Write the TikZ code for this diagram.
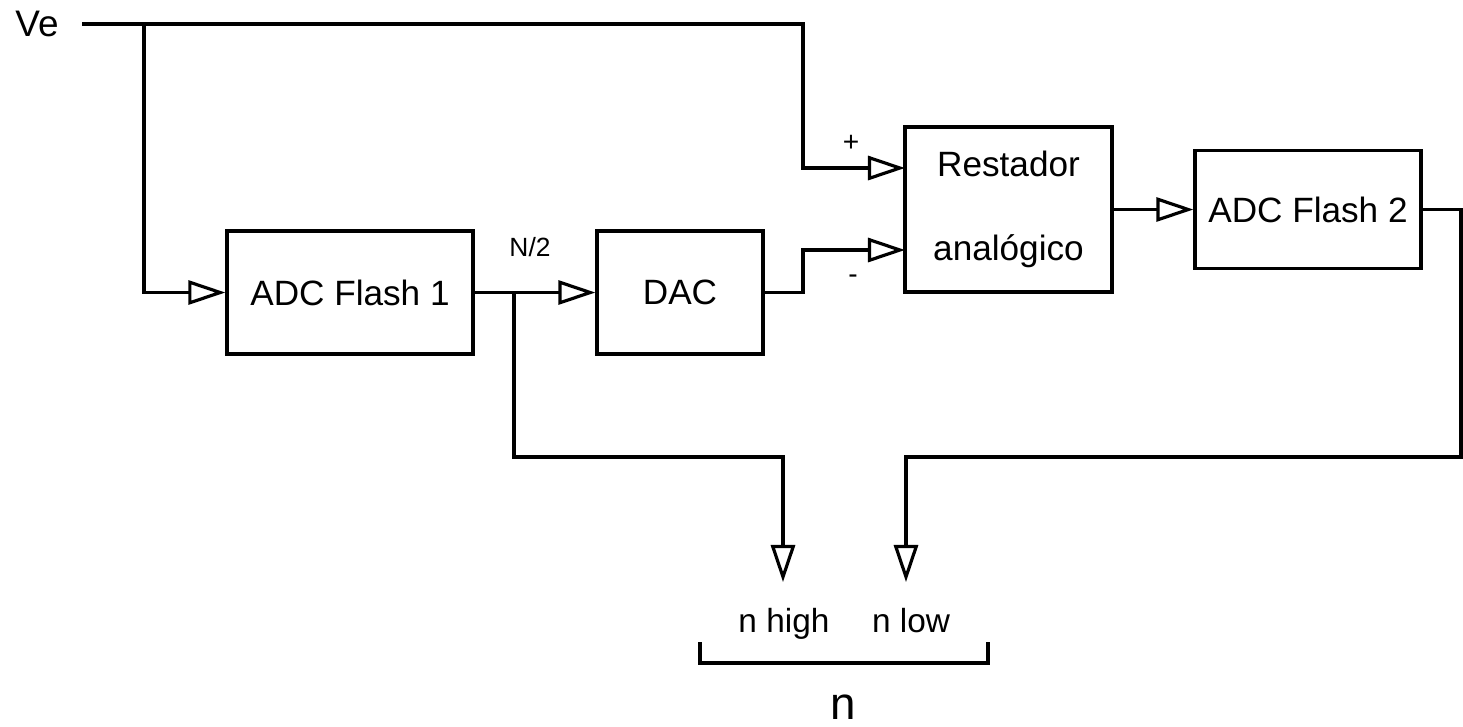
\documentclass[tikz,border=0pt]{standalone}
\usepackage{fontspec}
\setmainfont{Liberation Sans}
\usetikzlibrary{arrows.meta}
\definecolor{ink}{HTML}{000000}

\begin{document}
\begin{tikzpicture}[
  x=.01cm,y=-.01cm,
  >={Triangle[open,length=3.7mm,width=2.4mm]},
  block/.style={draw=ink, line width=.9pt, minimum height=1.23cm, inner sep=0pt,
    font=\fontsize{10}{12}\selectfont, text=ink},
  sig/.style={draw=ink, line width=.9pt},
  label/.style={text=ink, inner sep=0pt, font=\fontsize{9.5}{11}\selectfont},
  small/.style={text=ink, inner sep=0pt, font=\fontsize{8}{9}\selectfont}
]
\useasboundingbox (0,0) rectangle (1463,726);

% converter blocks
\node[block,minimum width=2.46cm] (adc1) at (350,292.5) {ADC Flash 1};
\node[block,minimum width=1.66cm] (dac) at (680,292.5) {DAC};
\node[block,minimum width=2.07cm,minimum height=1.65cm,align=center] (rest) at (1008.5,209.5) {Restador\\[12pt]analógico};
\node[block,minimum width=2.26cm,minimum height=1.18cm] (adc2) at (1308,209.5) {ADC Flash 2};

% bends and junctions
\coordinate (vin) at (82,24);
\coordinate (vtap) at (144,24);
\coordinate (pbend) at (803,168);
\coordinate (mbend) at (803,250);
\coordinate (ip) at (905,168);
\coordinate (im) at (905,250);
\coordinate (j1) at (514,292.5);
\coordinate (jb) at (514,457);
\coordinate (rb) at (1461,457);
\coordinate (hi) at (783,582);
\coordinate (lo) at (906,582);

% signal paths
\draw[sig,->] (vin) -| (pbend) -- (ip);
\draw[sig,->] (vtap) |- (adc1.west);
\draw[sig,->] (adc1.east) -- (dac.west);
\draw[sig,->] (dac.east) -| (mbend) -- (im);
\draw[sig,->] (rest.east) -- (adc2.west);
\draw[sig,->] (j1) -- (jb) -| (hi);
\draw[sig,->] (adc2.east) -| (rb) -| (lo);

% labels
\node[label,font=\fontsize{10.5}{12}\selectfont,anchor=base] (ve) at (37,36) {Ve};
\node[label,font=\fontsize{7.5}{9}\selectfont,anchor=base] (half) at (530,256) {N/2};
\node[small] (plus) at (851,143) {+};
\node[small] (minus) at (853,279) {-};
\node[label,anchor=base] (nhigh) at (784,632) {n high};
\node[label,anchor=base] (nlow) at (911,632) {n low};

% output word bracket
\draw[sig] (700,642) -- (700,663) -- (988,663) -- (988,642);
\node[label,font=\fontsize{13}{15}\selectfont,anchor=base] (nword) at (843,719) {n};

\end{tikzpicture}
\end{document}
